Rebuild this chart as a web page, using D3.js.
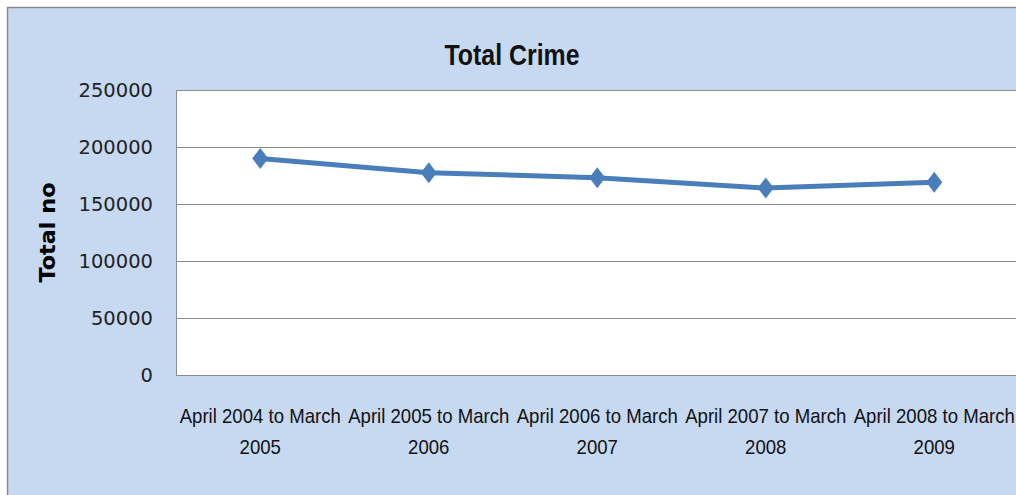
<!DOCTYPE html>
<html>
<head>
<meta charset="utf-8">
<script src="https://cdn.jsdelivr.net/npm/d3@7"></script>
<style>
  body { margin: 0; background: #fff; overflow: hidden; }
  svg { display: block; }
</style>
</head>
<body>
<div id="container"></div>
<script>
// chart data
let periods = ["April 2004 to March 2005", "April 2005 to March 2006", "April 2006 to March 2007",
               "April 2007 to March 2008", "April 2008 to March 2009"];
let labelLines = [["April 2004 to March", "2005"], ["April 2005 to March", "2006"], ["April 2006 to March", "2007"],
                  ["April 2007 to March", "2008"], ["April 2008 to March", "2009"]];
let totalCrime = [190000, 177500, 173000, 164000, 169000];
let yTicks = [0, 50000, 100000, 150000, 200000, 250000];

let w = 1016, h = 495;

let svg = d3.select("#container").append("svg")
  .attr("width", w).attr("height", h);

// outer chart area
svg.append("rect")
  .attr("x", 7.5).attr("y", 7.5)
  .attr("width", w + 20).attr("height", h + 20)
  .attr("fill", "#c6d9f1")
  .attr("stroke", "#8c8c8c").attr("stroke-width", 1.5);

// plot area
let plotLeft = 176, plotTop = 90, plotBottom = 375;
let bandW = 168.5;
let plotRight = plotLeft + bandW * periods.length;

let x = d3.scaleBand().domain(periods).range([plotLeft, plotRight]);
let y = d3.scaleLinear().domain([0, 250000]).range([plotBottom, plotTop]);

svg.append("rect")
  .attr("x", plotLeft + 0.5).attr("y", plotTop + 0.5)
  .attr("width", plotRight - plotLeft).attr("height", plotBottom - plotTop)
  .attr("fill", "#fff")
  .attr("stroke", "#8c8c8c").attr("stroke-width", 1);

// gridlines
svg.append("g").selectAll("line")
  .data(yTicks)
  .join("line")
    .attr("x1", plotLeft).attr("x2", plotRight)
    .attr("y1", d => Math.round(y(d)) + 0.5).attr("y2", d => Math.round(y(d)) + 0.5)
    .attr("stroke", "#8c8c8c").attr("stroke-width", 1);

// y tick labels
svg.append("g").selectAll("text")
  .data(yTicks)
  .join("text")
    .attr("x", 153).attr("y", d => y(d))
    .attr("dy", "0.36em")
    .attr("text-anchor", "end")
    .style("font-family", "'DejaVu Sans', sans-serif")
    .style("font-size", "19.5px")
    .style("fill", "#222")
    .text(d => d);

// y axis title
svg.append("text")
  .attr("transform", "translate(55," + (plotTop + plotBottom) / 2 + ") rotate(-90)")
  .attr("text-anchor", "middle")
  .attr("textLength", 100)
  .attr("lengthAdjust", "spacingAndGlyphs")
  .style("font-family", "'DejaVu Sans', sans-serif")
  .style("font-weight", "bold")
  .style("font-size", "22px")
  .text("Total no");

// chart title
svg.append("text")
  .attr("x", 512).attr("y", 65)
  .attr("text-anchor", "middle")
  .attr("textLength", 135)
  .attr("lengthAdjust", "spacingAndGlyphs")
  .style("font-family", "'Liberation Sans', sans-serif")
  .style("font-weight", "bold")
  .style("font-size", "30px")
  .style("fill", "#111")
  .text("Total Crime");

// x labels, horizontally condensed
let xl = svg.append("g").selectAll("text")
  .data(periods)
  .join("text")
    .attr("transform", d => "translate(" + (x(d) + x.bandwidth() / 2) + ",0) scale(0.93,1)")
    .attr("text-anchor", "middle")
    .style("font-family", "'Liberation Sans', sans-serif")
    .style("font-size", "20px")
    .style("fill", "#111");
xl.each(function(d, i) {
  let t = d3.select(this);
  labelLines[i].forEach((ln, k) => {
    t.append("tspan")
      .attr("x", 0)
      .attr("y", 423 + k * 31)
      .text(ln);
  });
});

// line
let line = d3.line()
  .x((d, i) => x(periods[i]) + x.bandwidth() / 2)
  .y(d => y(d));

svg.append("path")
  .datum(totalCrime)
  .attr("d", line)
  .attr("fill", "none")
  .attr("stroke", "#4a7ebb")
  .attr("stroke-width", 5)
  .attr("stroke-linejoin", "round");

// diamond markers
svg.append("g").selectAll("path")
  .data(totalCrime)
  .join("path")
    .attr("transform", (d, i) => "translate(" + (x(periods[i]) + x.bandwidth() / 2) + "," + y(d) + ") scale(1.32,1)")
    .attr("d", d3.symbol().type(d3.symbolDiamond).size(127))
    .attr("fill", "#4a7ebb");
</script>
</body>
</html>
